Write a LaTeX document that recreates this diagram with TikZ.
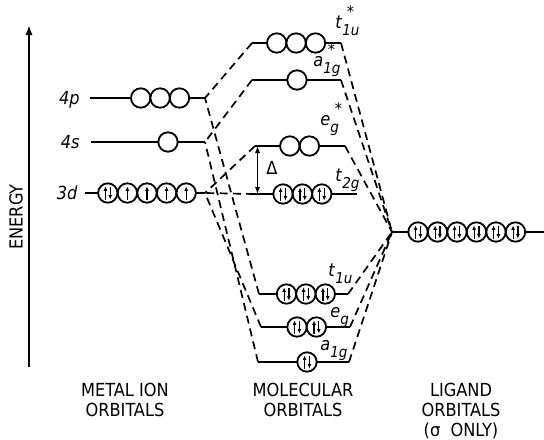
\documentclass[tikz,border=0pt]{standalone}
\usepackage{fontspec}
\setmainfont{DejaVu Sans Condensed}
\usetikzlibrary{arrows.meta}

% orbital boxes (circles), empty / one electron / pair
\newcommand{\orbempty}[2]{\draw[orb] (#1,#2) circle (9.7);}
\newcommand{\orbup}[2]{\draw[orb] (#1,#2) circle (9.7);
  \draw[el] (#1,#2+6.5) -- (#1,#2-6.5);}
\newcommand{\orbpair}[2]{\draw[orb] (#1,#2) circle (9.7);
  \draw[el] (#1-2.4,#2+6.5) -- (#1-2.4,#2-6.5);
  \draw[el] (#1+2.4,#2-6.5) -- (#1+2.4,#2+6.5);}
% term symbol: letter, subscript, superscript
\newcommand{\molab}[3]{\textit{#1}\makebox[0pt][l]{\raisebox{-0.8ex}{\fontsize{7.5}{7.5}\selectfont\textit{#2}}}\raisebox{1.1ex}{\hspace{0.25em}\fontsize{8}{8}\selectfont #3}}

\begin{document}
\begin{tikzpicture}[x=0.5pt, y=-0.5pt,
    level/.style={line width=1pt},
    orb/.style={draw, fill=white, line width=0.9pt},
    el/.style={line width=0.6pt, -{Latex[length=2.2pt,width=2pt]}},
    link/.style={line width=0.85pt, dash pattern=on 4pt off 2.6pt},
    lbl/.style={inner sep=0pt, font=\fontsize{9}{10}\selectfont}]

  \useasboundingbox (0,0) rectangle (544,439);

  % metal ion levels
  \coordinate (pL) at (90,98);   \coordinate (pR) at (205,98);
  \coordinate (sL) at (91,142);  \coordinate (sR) at (205,142);
  \coordinate (dL) at (85,193);  \coordinate (dR) at (205,193);

  % molecular orbital levels
  \coordinate (tusL) at (252,43);  \coordinate (tusR) at (341,43);
  \coordinate (agsL) at (252,80);  \coordinate (agsR) at (341,80);
  \coordinate (egsL) at (255,146); \coordinate (egsR) at (345,146);
  \coordinate (tgL) at (254,194);  \coordinate (tgR) at (357,194);
  \coordinate (tuL) at (259,294);  \coordinate (tuR) at (348,294);
  \coordinate (egL) at (261,327);  \coordinate (egR) at (350,327);
  \coordinate (agL) at (258,362);  \coordinate (agR) at (349,362);

  % ligand level
  \coordinate (lig) at (392,232);  \coordinate (ligR) at (544,232);

  % correlation lines
  \draw[link] (tusL) -- (pR);
  \draw[link] (tuL) -- (pR);
  \draw[link] (agsL) -- (sR);
  \draw[link] (agL) -- (sR);
  \draw[link] (egsL) -- (dR);
  \draw[link] (tgL) -- (dR);
  \draw[link] (egL) -- (dR);
  \foreach \m in {tusR,agsR,egsR,tuR,egR,agR}
    \draw[link] (\m) -- (lig);

  % levels
  \foreach \a/\b in {pL/pR,sL/sR,dL/dR,tusL/tusR,agsL/agsR,egsL/egsR,
                     tgL/tgR,tuL/tuR,egL/egR,agL/agR,lig/ligR}
    \draw[level] (\a) -- (\b);

  % orbitals
  \foreach \x in {140.7,160.1,179.5} {\orbempty{\x}{98}}
  \orbempty{168}{142}
  \orbpair{107.8}{193}
  \foreach \x in {127.4,147,166.6,186.2} {\orbup{\x}{193}}

  \foreach \x in {276.7,296.1,315.5} {\orbempty{\x}{43}}
  \orbempty{297}{80}
  \foreach \x in {289.8,309.4} {\orbempty{\x}{146}}
  \foreach \x in {283,302.4,321.8} {\orbpair{\x}{194}}
  \foreach \x in {286.5,305.9,325.3} {\orbpair{\x}{294}}
  \foreach \x in {297,316.4} {\orbpair{\x}{327}}
  \orbpair{307}{362}

  \foreach \x in {418,437.5,457,476.5,496,515.5} {\orbpair{\x}{232}}

  % splitting
  \coordinate (dtop) at (257.5,146);
  \coordinate (dbot) at (257.5,194);
  \draw[line width=0.7pt, {Latex[length=3.5pt,width=2.6pt]}-{Latex[length=3.5pt,width=2.6pt]}] (dtop) -- (dbot);
  \node[lbl] (delta) at (272,167.5) {Δ};

  % energy axis
  \coordinate (ebot) at (29,367);
  \coordinate (etop) at (29,25);
  \draw[line width=1.1pt, -{Latex[length=5pt,width=3.6pt]}] (ebot) -- (etop);
  \node[lbl, rotate=90] (energy) at (16,217) {ENERGY};

  % level labels
  \node[lbl, anchor=base east] (l4p) at (80,104.5) {\textit{4p}};
  \node[lbl, anchor=base east] (l4s) at (80,148.5) {\textit{4s}};
  \node[lbl, anchor=base east] (l3d) at (78,199.5) {\textit{3d}};

  \node[lbl, anchor=base west] (ltus) at (335,28) {\molab{t}{1u}{*}};
  \node[lbl, anchor=base west] (lags) at (313,66) {\molab{a}{1g}{*}};
  \node[lbl, anchor=base west] (legs) at (320,125) {\molab{e}{g}{*}};
  \node[lbl, anchor=base west] (ltg) at (335,181) {\molab{t}{2g}{}};
  \node[lbl, anchor=base west] (ltu) at (328,276) {\molab{t}{1u}{}};
  \node[lbl, anchor=base west] (leg) at (330,317) {\molab{e}{g}{}};
  \node[lbl, anchor=base west] (lag) at (320,350) {\molab{a}{1g}{}};

  % column titles
  \node[lbl, align=center, anchor=north] (metal) at (125,383) {METAL ION\\ORBITALS};
  \node[lbl, align=center, anchor=north] (mol) at (303,383) {MOLECULAR\\ORBITALS};
  \node[lbl, align=center, anchor=north] (ligand) at (461,383) {LIGAND\\ORBITALS\\(σ~~ONLY)};

\end{tikzpicture}
\end{document}
